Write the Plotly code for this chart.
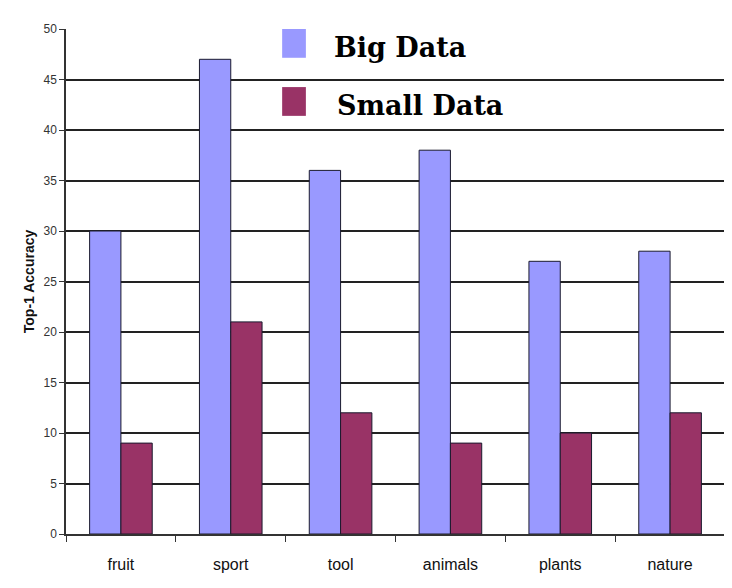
import plotly.graph_objects as go

categories = ["fruit", "sport", "tool", "animals", "plants", "nature"]
big_data = [30, 47, 36, 38, 27, 28]
small_data = [9, 21, 12, 9, 10, 12]
series_names = ["Big Data", "Small Data"]
series_colors = ["#9999ff", "#993366"]
y_ticks = [0, 5, 10, 15, 20, 25, 30, 35, 40, 45, 50]

fig = go.Figure()
for name, vals, col in zip(series_names, [big_data, small_data], series_colors):
    fig.add_trace(go.Bar(
        x=categories, y=vals, name=name,
        marker=dict(color=col, line=dict(color="#1a1a2e", width=1)),
        showlegend=False,
    ))

# Custom legend (swatches + labels)
legend_rows = [
    (0.943, 1.0, 0.404, 0.964, series_names[0], series_colors[0]),
    (0.828, 0.885, 0.408, 0.848, series_names[1], series_colors[1]),
]
for y0, y1, tx, ty, name, col in legend_rows:
    fig.add_shape(type="rect", xref="paper", yref="paper",
                  x0=0.328, x1=0.364, y0=y0, y1=y1,
                  fillcolor=col, line=dict(width=0), layer="above")
    fig.add_annotation(xref="paper", yref="paper", x=tx, y=ty,
                       text="<b>" + name + "</b>", showarrow=False,
                       xanchor="left", yanchor="middle",
                       font=dict(family="DejaVu Serif", size=27, color="#000000"))

fig.update_layout(
    width=732, height=588,
    margin=dict(l=58, r=15, t=21, b=62),
    paper_bgcolor="white", plot_bgcolor="white",
    barmode="group", bargap=0.43, bargroupgap=0,
    font=dict(family="Liberation Sans, Arial", color="#222222"),
    xaxis=dict(
        showline=True, linecolor="#333333", linewidth=1.5,
        ticks="outside", tickson="boundaries", ticklen=6, tickcolor="#333333",
        tickfont=dict(size=16, color="#111111"), showgrid=False,
        ticklabelstandoff=15,
    ),
    yaxis=dict(
        range=[0, 50], tickvals=y_ticks,
        showline=True, linecolor="#333333", linewidth=1.5,
        ticks="outside", ticklen=5, tickcolor="#333333",
        tickfont=dict(size=12, color="#333333"),
        showgrid=True, gridcolor="#222222", gridwidth=1.5,
        title=dict(text="<b>Top-1 Accuracy</b>", font=dict(size=14, color="#111111"), standoff=6),
        zeroline=False,
    ),
)

fig.write_html("out.html")
